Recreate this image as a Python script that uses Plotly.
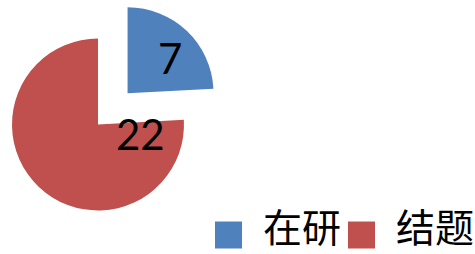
import math
import plotly.graph_objects as go

# ---- data ----
labels = ["在研", "结题"]
values = [7, 22]
colors = ["#4F81BD", "#C0504D"]

# ---- layout constants (pixels) ----
W, H = 475, 254
R = 86.0                      # pie radius in px
CX, CY = 98.0, 124.5          # centre of the main pie (px from top-left)
PULL = 0.5                    # pull of first slice, fraction of radius
LABEL_OFF = [(0.49, -0.41), (0.49, 0.11)]  # label offsets (fraction of R) from each slice's own centre

# legend geometry (px)
LEG_X0 = 215       # left of first swatch
LEG_YC = 235       # swatch vertical centre
SW = 27            # swatch size
SW_TXT_GAP = 20    # gap swatch -> text
TXT_W = 80         # width of a two-character label
ITEM_GAP = 6       # gap text -> next swatch
LEG_FONT = 39

total = sum(values)
mid_angle = math.radians(values[0] / total * 360 / 2)  # clockwise from 12 o'clock
pcx = CX + PULL * R * math.sin(mid_angle)
pcy = CY - PULL * R * math.cos(mid_angle)


def dom(cx, cy, r):
    return dict(x=[(cx - r) / W, (cx + r) / W], y=[1 - (cy + r) / H, 1 - (cy - r) / H])


def px(x):
    return x / W


def py(y):
    return 1 - y / H


TRANSP = "rgba(0,0,0,0)"
fig = go.Figure()
# main pie (all slices except the pulled one)
fig.add_trace(go.Pie(
    labels=labels, values=values, sort=False, direction="clockwise", rotation=0,
    marker=dict(colors=[TRANSP] + colors[1:], line=dict(width=0)),
    textinfo="none", hoverinfo="label+value", showlegend=False,
    domain=dom(CX, CY, R),
))
# pulled slice
fig.add_trace(go.Pie(
    labels=labels, values=values, sort=False, direction="clockwise", rotation=0,
    marker=dict(colors=[colors[0]] + [TRANSP] * (len(values) - 1), line=dict(width=0)),
    textinfo="none", hoverinfo="label+value", showlegend=False,
    domain=dom(pcx, pcy, R),
))

# value labels
centres = [(pcx, pcy), (CX, CY)]
for v, (cx, cy), (fx, fy) in zip(values, centres, LABEL_OFF):
    fig.add_annotation(
        x=px(cx + fx * R), y=py(cy + fy * R), xref="paper", yref="paper",
        text=str(v), showarrow=False, xanchor="center", yanchor="middle",
        font=dict(family="Lato, Noto Sans, sans-serif", size=42, color="#000000"),
    )

# legend (swatch + text)
x = LEG_X0
for lab, col in zip(labels, colors):
    fig.add_shape(
        type="rect", xref="paper", yref="paper",
        x0=px(x), x1=px(x + SW), y0=py(LEG_YC + SW / 2), y1=py(LEG_YC - SW / 2),
        fillcolor=col, line=dict(width=0),
    )
    fig.add_annotation(
        x=px(x + SW + SW_TXT_GAP), y=0, xref="paper", yref="paper",
        text=lab, showarrow=False, xanchor="left", yanchor="bottom", borderpad=0,
        font=dict(family="Noto Sans CJK SC", size=LEG_FONT, color="#000000"),
    )
    x += SW + SW_TXT_GAP + TXT_W + ITEM_GAP

fig.update_layout(
    width=W, height=H, margin=dict(l=0, r=0, t=0, b=0),
    paper_bgcolor="#FFFFFF", plot_bgcolor="#FFFFFF",
    showlegend=False,
)

fig.write_html(
    "out.html",
    config={"displayModeBar": False},
    post_script="document.body.style.margin='0';document.body.style.overflow='hidden';",
)
